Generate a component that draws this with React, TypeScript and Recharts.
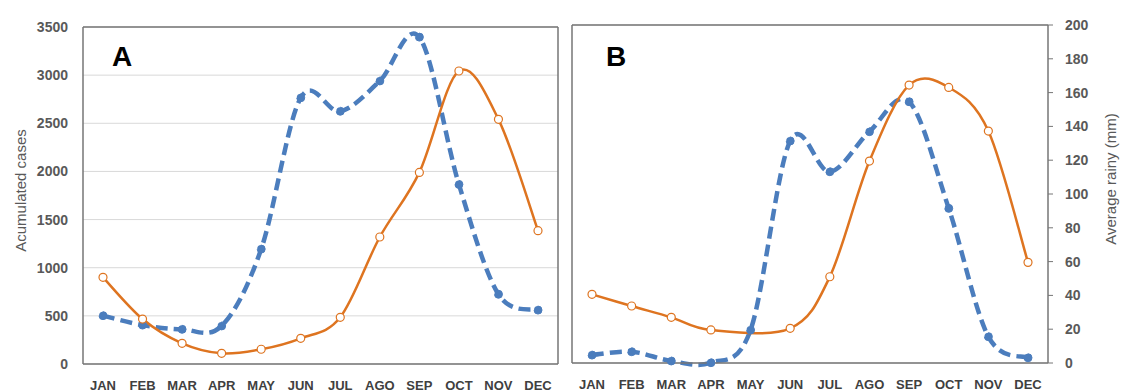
import { CartesianGrid, Line, LineChart, ReferenceLine, XAxis, YAxis } from "recharts";

const months = ["JAN", "FEB", "MAR", "APR", "MAY", "JUN", "JUL", "AGO", "SEP", "OCT", "NOV", "DEC"];

// panel A
const casesA = [900, 467, 215, 111, 153, 267, 485, 1319, 1990, 3043, 2541, 1385];
const rainA = [28.7, 23.1, 20.6, 22.6, 68.2, 158, 150, 168, 194, 106.6, 41.4, 32];

// panel B (no May value for cases, the line just joins Apr to Jun)
const casesB = [711, 590, 473, 342, null, 359, 893, 2091, 2878, 2854, 2402, 1042];
const rainB = [4.7, 6.7, 1.2, 0.2, 19.5, 131.4, 113.2, 136.9, 154.6, 91.5, 15.6, 3.1];

const caseTicks = [0, 500, 1000, 1500, 2000, 2500, 3000, 3500];
const rainTicks = [0, 20, 40, 60, 80, 100, 120, 140, 160, 180, 200];

const ORANGE = "#DE7420";
const BLUE = "#4B7DBD";
const BORDER = "#767676";
const FONT = "'Liberation Sans', Arial, sans-serif";

const dataA = months.map((m, i) => ({ month: m, cases: casesA[i], rain: rainA[i] }));
const dataB = months.map((m, i) => ({ month: m, cases: casesB[i], rain: rainB[i] }));

// excel-ish smoothed line (catmull-rom through the points)
const smooth = (context: any) => {
  let pts: number[][] = [];
  return {
    areaStart() {},
    areaEnd() {},
    lineStart() {
      pts = [];
    },
    lineEnd() {
      if (!pts.length) return;
      context.moveTo(pts[0][0], pts[0][1]);
      for (let i = 0; i < pts.length - 1; i++) {
        const p0 = pts[Math.max(0, i - 1)];
        const p1 = pts[i];
        const p2 = pts[i + 1];
        const p3 = pts[Math.min(pts.length - 1, i + 2)];
        context.bezierCurveTo(
          p1[0] + (p2[0] - p0[0]) / 6,
          p1[1] + (p2[1] - p0[1]) / 6,
          p2[0] - (p3[0] - p1[0]) / 6,
          p2[1] - (p3[1] - p1[1]) / 6,
          p2[0],
          p2[1]
        );
      }
    },
    point(x: number, y: number) {
      pts.push([+x, +y]);
    },
  };
};

const tickStyle = { fill: "#595959", fontSize: 14, fontWeight: 700, fontFamily: FONT };
const monthStyle = { fill: "#404040", fontSize: 13, fontWeight: 700, fontFamily: FONT };

const sideTitle = (text: string, dx: number, dy: number) => (props: any) => {
  const vb = props.viewBox;
  const x = vb.x + dx;
  const y = vb.y + vb.height / 2 + dy;
  return (
    <text
      x={x}
      y={y}
      transform={`rotate(-90 ${x} ${y})`}
      textAnchor="middle"
      dominantBaseline="central"
      fill="#595959"
      fontSize={15}
      fontFamily={FONT}
    >
      {text}
    </text>
  );
};

const series = (casesAxis: string, rainAxis: string) => [
  <Line
    key="rain"
    yAxisId={rainAxis}
    dataKey="rain"
    type={smooth as any}
    stroke={BLUE}
    strokeWidth={4.5}
    strokeDasharray="12 6"
    dot={{ r: 4, fill: BLUE, stroke: BLUE, strokeWidth: 1 }}
    isAnimationActive={false}
  />,
  <Line
    key="cases"
    yAxisId={casesAxis}
    dataKey="cases"
    type={smooth as any}
    stroke={ORANGE}
    strokeWidth={2.5}
    connectNulls
    dot={{ r: 4, fill: "#fff", stroke: ORANGE, strokeWidth: 1.2 }}
    isAnimationActive={false}
  />,
];

const panelLetter = (letter: string, left: number) => (
  <div
    style={{
      position: "absolute",
      left,
      top: 43,
      fontFamily: FONT,
      fontWeight: 700,
      fontSize: 28,
      lineHeight: "28px",
      color: "#000",
    }}
  >
    {letter}
  </div>
);

export default function App() {
  return (
    <div style={{ position: "absolute", left: 0, top: 0, width: 1121, height: 392, background: "#fff" }}>
      <div style={{ position: "absolute", left: 0, top: 0 }}>
        <LineChart width={570} height={392} data={dataA} margin={{ top: 27, right: 0, bottom: 0, left: 13 }}>
          <CartesianGrid yAxisId="cases" vertical={false} stroke="#d9d9d9" />
          <XAxis
            dataKey="month"
            height={28}
            padding={{ left: 20, right: 20 }}
            axisLine={{ stroke: BORDER, strokeWidth: 1.5 }}
            tickLine={false}
            tickSize={6}
            tickMargin={11}
            tick={monthStyle}
            interval={0}
          />
          <YAxis
            yAxisId="cases"
            orientation="left"
            width={70}
            domain={[0, 3500]}
            ticks={caseTicks}
            tickLine={false}
            tickSize={6}
            tickMargin={9}
            axisLine={{ stroke: BORDER, strokeWidth: 1.5 }}
            tick={tickStyle}
            label={{ content: sideTitle("Acumulated cases", 7, -5) }}
          />
          <YAxis
            yAxisId="rain"
            orientation="right"
            width={12}
            domain={[0, 200]}
            ticks={rainTicks}
            tick={false}
            tickSize={5}
            tickLine={{ stroke: BORDER }}
            axisLine={{ stroke: BORDER, strokeWidth: 1.5 }}
          />
          <ReferenceLine yAxisId="cases" y={3500} stroke={BORDER} strokeWidth={1.5} />
          {series("cases", "rain")}
        </LineChart>
      </div>
      <div style={{ position: "absolute", left: 560, top: 0 }}>
        <LineChart width={561} height={392} data={dataB} margin={{ top: 25, right: 0, bottom: 0, left: 0 }}>
          <CartesianGrid yAxisId="cases" vertical={false} stroke="#d9d9d9" />
          <XAxis
            dataKey="month"
            height={29}
            padding={{ left: 20, right: 20 }}
            axisLine={{ stroke: BORDER, strokeWidth: 1.5 }}
            tickLine={false}
            tickSize={6}
            tickMargin={11}
            tick={monthStyle}
            interval={0}
          />
          <YAxis
            yAxisId="cases"
            orientation="left"
            width={12}
            domain={[0, 3500]}
            ticks={caseTicks}
            tick={false}
            tickLine={false}
            axisLine={{ stroke: BORDER, strokeWidth: 1.5 }}
          />
          <YAxis
            yAxisId="rain"
            orientation="right"
            width={73}
            domain={[0, 200]}
            ticks={rainTicks}
            tickSize={5}
            tickMargin={12}
            tickLine={{ stroke: BORDER }}
            axisLine={{ stroke: BORDER, strokeWidth: 1.5 }}
            tick={tickStyle}
            label={{ content: sideTitle("Average rainy (mm)", 62, -15) }}
          />
          <ReferenceLine yAxisId="cases" y={3500} stroke={BORDER} strokeWidth={1.5} />
          {series("cases", "rain")}
        </LineChart>
      </div>
      {panelLetter("A", 112)}
      {panelLetter("B", 606)}
    </div>
  );
}
